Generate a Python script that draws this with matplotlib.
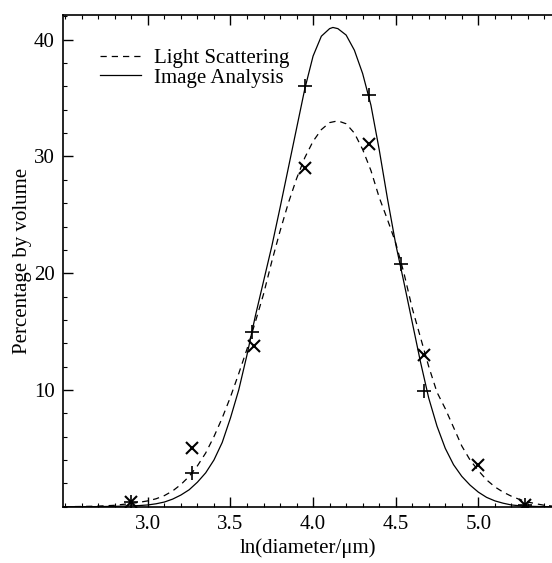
import matplotlib
matplotlib.use("Agg")
import matplotlib.pyplot as plt
from matplotlib.ticker import MultipleLocator

plt.rcParams['font.family'] = ['Liberation Serif', 'DejaVu Serif']

# fitted curves
ls_x = [2.49, 2.6, 2.7, 2.8, 2.9, 2.95, 3.0, 3.05, 3.1, 3.15, 3.2, 3.25, 3.3, 3.35, 3.4, 3.45,
        3.5, 3.55, 3.6, 3.65, 3.7, 3.75, 3.8, 3.85, 3.9, 3.95, 4.0, 4.05, 4.1, 4.15, 4.2,
        4.25, 4.3, 4.35, 4.4, 4.45, 4.5, 4.55, 4.6, 4.65, 4.7, 4.75, 4.8, 4.85, 4.9, 4.95,
        5.0, 5.05, 5.1, 5.15, 5.2, 5.25, 5.3, 5.35, 5.4, 5.45]
ls_y = [0.0, 0.02, 0.05, 0.12, 0.28, 0.38, 0.5, 0.68, 0.95, 1.35, 1.9, 2.6, 3.5, 4.6, 6.0, 7.6,
        9.4, 11.4, 13.5, 15.8, 18.2, 21.0, 23.6, 26.0, 28.1, 29.9, 31.3, 32.3, 32.9, 33.05, 32.8,
        32.0, 30.6, 28.8, 26.5, 24.6, 22.6, 20.0, 17.0, 14.5, 12.0, 9.8, 8.4, 6.8, 5.2, 4.0,
        3.1, 2.3, 1.7, 1.25, 0.9, 0.62, 0.4, 0.25, 0.12, 0.05]

ia_x = [2.49, 2.6, 2.7, 2.8, 2.9, 2.95, 3.0, 3.05, 3.1, 3.15, 3.2, 3.25, 3.3, 3.35, 3.4, 3.45,
        3.5, 3.55, 3.6, 3.65, 3.7, 3.75, 3.8, 3.85, 3.9, 3.95, 4.0, 4.05, 4.1, 4.12, 4.15, 4.2,
        4.25, 4.3, 4.35, 4.4, 4.45, 4.5, 4.55, 4.6, 4.65, 4.7, 4.75, 4.8, 4.85, 4.9, 4.95,
        5.0, 5.05, 5.1, 5.15, 5.2, 5.25, 5.3, 5.35, 5.45]
ia_y = [0.0, 0.0, 0.01, 0.03, 0.07, 0.1, 0.15, 0.25, 0.4, 0.65, 1.0, 1.45, 2.1, 2.9, 4.0, 5.5,
        7.6, 10.0, 13.0, 16.3, 19.3, 22.3, 25.6, 29.0, 32.4, 35.8, 38.6, 40.3, 40.95, 41.05, 40.95, 40.4,
        39.1, 37.1, 34.4, 30.6, 26.4, 22.5, 19.2, 15.8, 12.4, 9.3, 6.9, 5.0, 3.6, 2.6, 1.85,
        1.25, 0.8, 0.5, 0.3, 0.15, 0.08, 0.04, 0.02, 0.0]

# measured points
plus_x = [2.90, 3.27, 3.63, 3.95, 4.34, 4.53, 4.67, 5.28]
plus_y = [0.4, 2.9, 15.0, 36.0, 35.3, 20.8, 9.9, 0.15]
cross_x = [2.90, 3.27, 3.64, 3.95, 4.34, 4.67, 5.0, 5.28]
cross_y = [0.4, 5.0, 13.8, 29.0, 31.1, 13.0, 3.55, 0.15]

fig = plt.figure(figsize=(5.52, 5.63), dpi=100)
ax = fig.add_axes([0.114, 0.100, 0.886, 0.873])

ax.plot(ls_x, ls_y, color='black', lw=0.9, ls=(0, (5, 4)), label='Light Scattering')
ax.plot(ia_x, ia_y, color='black', lw=0.9, ls='-', label='Image Analysis')
ax.plot(plus_x, plus_y, ls='none', marker='+', ms=10, mew=1.2, color='black')
ax.plot(cross_x, cross_y, ls='none', marker='x', ms=8, mew=1.5, color='black')

ax.set_xlim(2.486, 5.446)
ax.set_ylim(0, 42.1)
ax.set_xticks([3.0, 3.5, 4.0, 4.5, 5.0])
ax.set_xticklabels(['3.0', '3.5', '4.0', '4.5', '5.0'])
ax.set_yticks([10, 20, 30, 40])
ax.xaxis.set_minor_locator(MultipleLocator(0.1))
ax.yaxis.set_minor_locator(MultipleLocator(2))
ax.tick_params(which='both', direction='in', top=True, right=False, labelsize=15, pad=6)
ax.tick_params(which='major', length=7, width=1)
ax.tick_params(which='minor', length=3, width=0.8)
ax.spines['right'].set_visible(False)
for s in ['left', 'bottom', 'top']:
    ax.spines[s].set_linewidth(1.2)

ax.set_xlabel('ln(diameter/μm)', fontsize=15, labelpad=3)
ax.set_ylabel('Percentage by volume', fontsize=15, labelpad=1)

ax.legend(loc='upper left', bbox_to_anchor=(0.075, 0.932), frameon=False, fontsize=15,
          handlelength=2.0, handletextpad=0.6, labelspacing=0.0, borderaxespad=0,
          borderpad=0)

fig.savefig('out.png', dpi=100)
